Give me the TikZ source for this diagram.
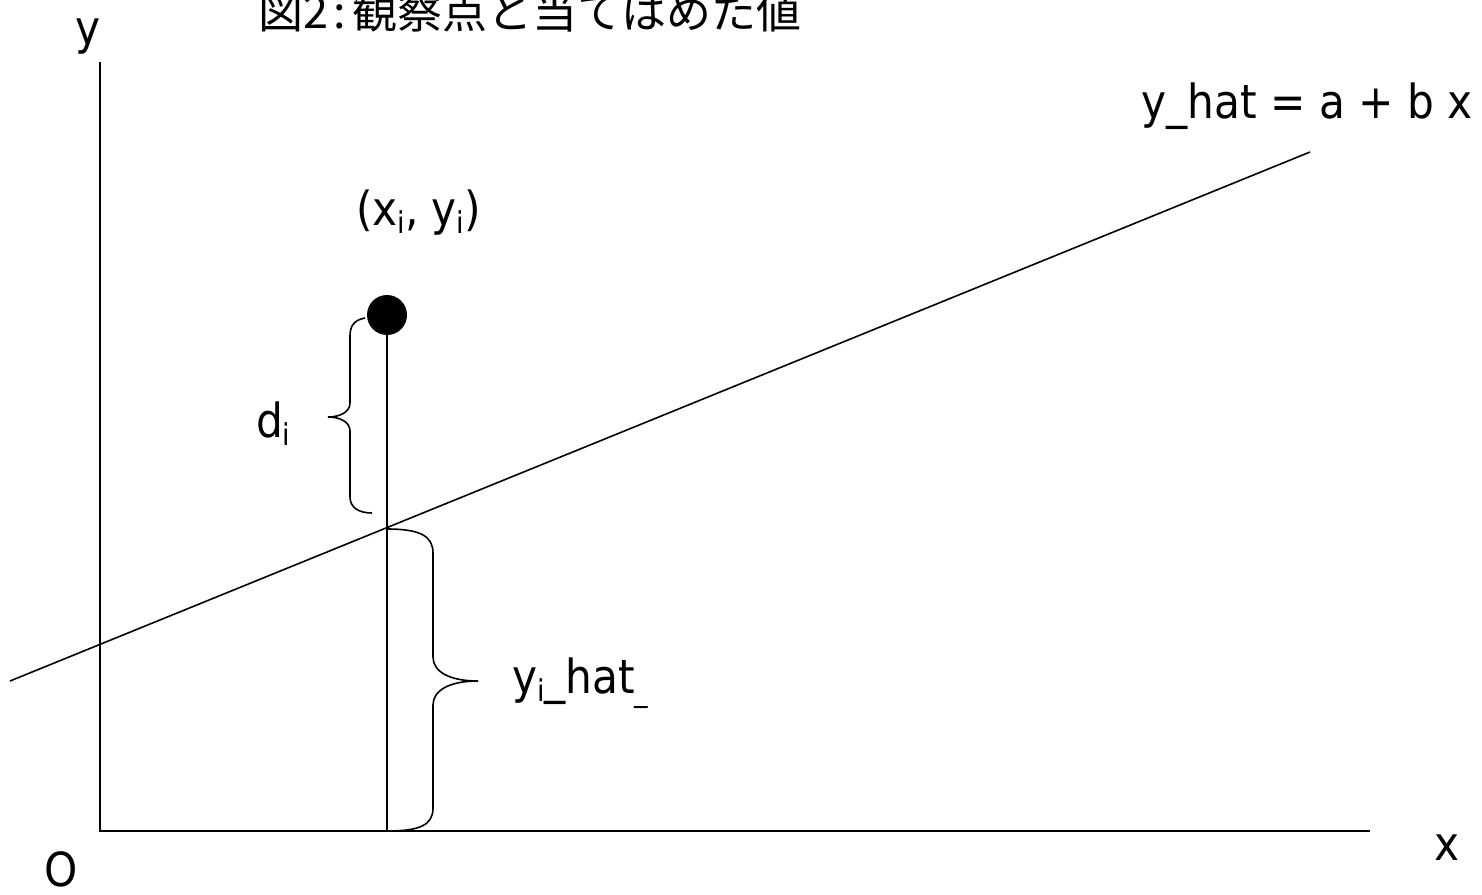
\documentclass[tikz,border=0pt]{standalone}
\usepackage{fontspec}
\setmainfont{DejaVu Sans Condensed}
\newfontfamily\jpfont{Noto Sans CJK JP}
\newcommand{\sbs}[1]{\raisebox{-8pt}{\fontsize{30}{30}\selectfont #1}}
\tikzset{
  lbl/.style={inner sep=0pt, outer sep=0pt, font=\fontsize{47}{50}\selectfont},
  ttl/.style={inner sep=0pt, outer sep=0pt, font=\jpfont\fontsize{45}{48}\selectfont},
  ln/.style={line width=2pt, draw=black},
  thin/.style={line width=1.6pt, draw=black},
}
\begin{document}
\begin{tikzpicture}[x=1pt,y=-1pt]
\useasboundingbox (0,0) rectangle (1482,894);
% axes
\coordinate (ytop) at (100,62);
\coordinate (orig) at (100,831);
\coordinate (xend) at (1370,831);
\draw[ln] (ytop) -- (orig) -- (xend);
% regression line
\coordinate (rl) at (10,681);
\coordinate (rr) at (1310,152);
\draw[thin] (rl) -- (rr);
% point
\node[circle, fill=black, minimum size=40pt, inner sep=0pt] (pt) at (387,315) {};
\coordinate (foot) at (387,831);
\draw[ln] (pt.center) -- (foot);
% brace d_i
\coordinate (b1t) at (365,318);
\coordinate (b1tip) at (328,417);
\coordinate (b1b) at (372,513);
\draw[thin] (b1t) .. controls (354,320) and (350,326) .. (350,336)
  -- (350,403) .. controls (350,412) and (340,417) .. (b1tip)
  .. controls (340,417) and (350,422) .. (350,431)
  -- (350,497) .. controls (350,507) and (358,513) .. (b1b);
% brace y_i_hat
\coordinate (b2t) at (387,529);
\coordinate (b2tip) at (478,681);
\coordinate (b2b) at (387,831);
\draw[thin] (b2t) .. controls (420,529) and (433,536) .. (433,553)
  -- (433,657) .. controls (433,672) and (450,681) .. (b2tip)
  .. controls (450,681) and (433,690) .. (433,705)
  -- (433,808) .. controls (433,825) and (420,831) .. (b2b);
% labels
\node[lbl, anchor=base] (ylab) at (88,44) {y};
\node[ttl, anchor=base west] (title) at (258,28) {図2\hspace{6pt}:\hspace{6pt}観察点と当てはめた値};
\node[lbl, anchor=base west] (ptlab) at (356,225) {(x\sbs{i}, y\sbs{i})};
\node[lbl, anchor=base west] (dlab) at (256,437) {d\sbs{i}};
\node[lbl, anchor=base west] (yhlab) at (512,693) {y\sbs{i}\_hat\sbs{\_}};
\node[lbl, anchor=base east] (eqlab) at (1473,118) {y\_hat = a + b x};
\node[lbl, anchor=base] (xlab) at (1447,860) {x};
\node[lbl, anchor=base] (olab) at (61,886) {O};
\end{tikzpicture}
\end{document}
